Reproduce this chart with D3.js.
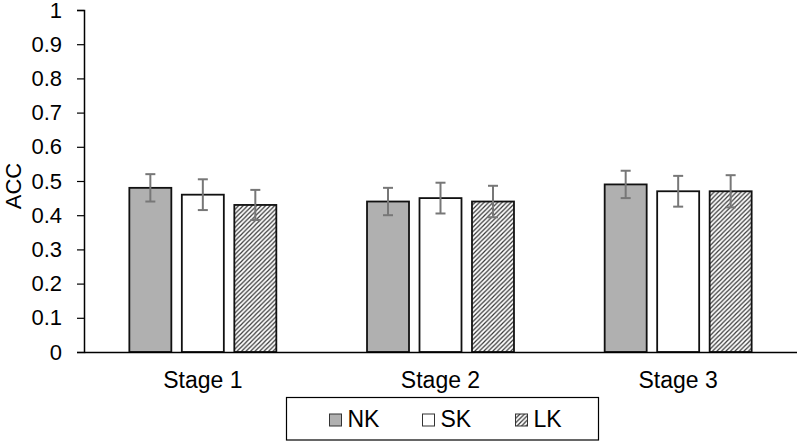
<!DOCTYPE html>
<html>
<head>
<meta charset="utf-8">
<script src="https://cdn.jsdelivr.net/npm/d3@7"></script>
<style>
  body { margin: 0; background: #fff; }
  svg { display: block; font-family: "Liberation Sans", Arial, sans-serif; }
</style>
</head>
<body>
<div id="chart"></div>
<script>
// Data
const stages = ['Stage 1', 'Stage 2', 'Stage 3'];
const series = ['NK', 'SK', 'LK'];
const nkValues = [0.48, 0.44, 0.49];
const skValues = [0.46, 0.45, 0.47];
const lkValues = [0.43, 0.44, 0.47];
const nkErr = [0.04, 0.04, 0.04];
const skErr = [0.045, 0.045, 0.045];
const lkErr = [0.044, 0.046, 0.047];
const yTicks = [0, 0.1, 0.2, 0.3, 0.4, 0.5, 0.6, 0.7, 0.8, 0.9, 1];

const width = 797, height = 441;
const plot = { left: 84, right: 797, top: 10, bottom: 352 };

const valuesBySeries = { NK: nkValues, SK: skValues, LK: lkValues };
const errBySeries = { NK: nkErr, SK: skErr, LK: lkErr };

const rows = [];
stages.forEach((stage, i) => {
  series.forEach(s => {
    rows.push({ stage, series: s, value: valuesBySeries[s][i], err: errBySeries[s][i] });
  });
});

const svg = d3.select('#chart').append('svg')
    .attr('width', width)
    .attr('height', height);

// hatch pattern for LK
const defs = svg.append('defs');
defs.append('pattern')
    .attr('id', 'hatch')
    .attr('patternUnits', 'userSpaceOnUse')
    .attr('width', 4.5)
    .attr('height', 4.5)
  .call(p => p.append('rect').attr('width', 4.5).attr('height', 4.5).attr('fill', '#fff'))
  .append('path')
    .attr('d', 'M-1,1 l2,-2 M0,4.5 l4.5,-4.5 M3.5,5.5 l2,-2')
    .attr('stroke', '#333')
    .attr('stroke-width', 1.2);

const fills = { NK: '#b0b0b0', SK: '#ffffff', LK: 'url(#hatch)' };

const x0 = d3.scaleBand()
    .domain(stages)
    .range([plot.left, plot.right])
    .paddingInner(0.3816)
    .paddingOuter(0.1908);

const x1 = d3.scaleBand()
    .domain(series)
    .range([0, x0.bandwidth()])
    .paddingInner(0.2);

const y = d3.scaleLinear()
    .domain([0, 1])
    .range([plot.bottom, plot.top]);

// y axis
const yAxis = svg.append('g')
    .attr('transform', `translate(${plot.left},0)`)
    .call(d3.axisLeft(y).tickValues(yTicks).tickFormat(d3.format('~g')).tickSizeOuter(0).tickSize(7).tickPadding(15));
yAxis.select('.domain').attr('stroke', '#000').attr('stroke-width', 1.5);
yAxis.selectAll('.tick line').attr('stroke', '#000').attr('stroke-width', 1.2);
yAxis.selectAll('.tick text')
    .attr('font-size', 22)
    .attr('fill', '#000')
    .attr('font-family', '"Liberation Sans", Arial, sans-serif');

// y label
svg.append('text')
    .attr('transform', `translate(21,186) rotate(-90)`)
    .attr('text-anchor', 'middle')
    .attr('font-size', 22)
    .text('ACC');

// bars
const groups = svg.append('g').selectAll('g')
    .data(stages)
    .join('g')
    .attr('transform', d => `translate(${x0(d)},0)`);

groups.selectAll('rect')
    .data(stage => rows.filter(r => r.stage === stage))
    .join('rect')
    .attr('x', d => x1(d.series))
    .attr('y', d => y(d.value))
    .attr('width', x1.bandwidth())
    .attr('height', d => y(0) - y(d.value))
    .attr('fill', d => fills[d.series])
    .attr('stroke', '#111')
    .attr('stroke-width', 1.8);

// error bars
const errG = groups.selectAll('g.err')
    .data(stage => rows.filter(r => r.stage === stage))
    .join('g')
    .attr('class', 'err')
    .attr('stroke', '#777')
    .attr('stroke-width', 2);

errG.append('line')
    .attr('x1', d => x1(d.series) + x1.bandwidth() / 2)
    .attr('x2', d => x1(d.series) + x1.bandwidth() / 2)
    .attr('y1', d => y(d.value + d.err))
    .attr('y2', d => y(d.value - d.err));

[1, -1].forEach(sign => {
  errG.append('line')
      .attr('x1', d => x1(d.series) + x1.bandwidth() / 2 - 5)
      .attr('x2', d => x1(d.series) + x1.bandwidth() / 2 + 5)
      .attr('y1', d => y(d.value + sign * d.err))
      .attr('y2', d => y(d.value + sign * d.err));
});

// x axis
const xAxis = svg.append('g')
    .attr('transform', `translate(0,${plot.bottom})`)
    .call(d3.axisBottom(x0).tickSize(0).tickPadding(20).tickSizeOuter(0));
xAxis.select('.domain').attr('stroke', '#000').attr('stroke-width', 1.5);
xAxis.selectAll('.tick text')
    .attr('font-size', 23)
    .attr('fill', '#000')
    .attr('font-family', '"Liberation Sans", Arial, sans-serif');

// legend
const legend = svg.append('g');
legend.append('rect')
    .attr('x', 286.5)
    .attr('y', 397.5)
    .attr('width', 312)
    .attr('height', 42.5)
    .attr('fill', '#fff')
    .attr('stroke', '#000')
    .attr('stroke-width', 1.2);

const legendX = d3.scalePoint()
    .domain(series)
    .range([329.5, 515.5]);

const items = legend.selectAll('g.item')
    .data(series)
    .join('g')
    .attr('class', 'item')
    .attr('transform', d => `translate(${legendX(d)},414)`);

items.append('rect')
    .attr('width', 12)
    .attr('height', 12)
    .attr('fill', d => fills[d])
    .attr('stroke', '#333')
    .attr('stroke-width', 1);

items.append('text')
    .attr('x', 18)
    .attr('y', 13)
    .attr('font-size', 23)
    .text(d => d);
</script>
</body>
</html>
